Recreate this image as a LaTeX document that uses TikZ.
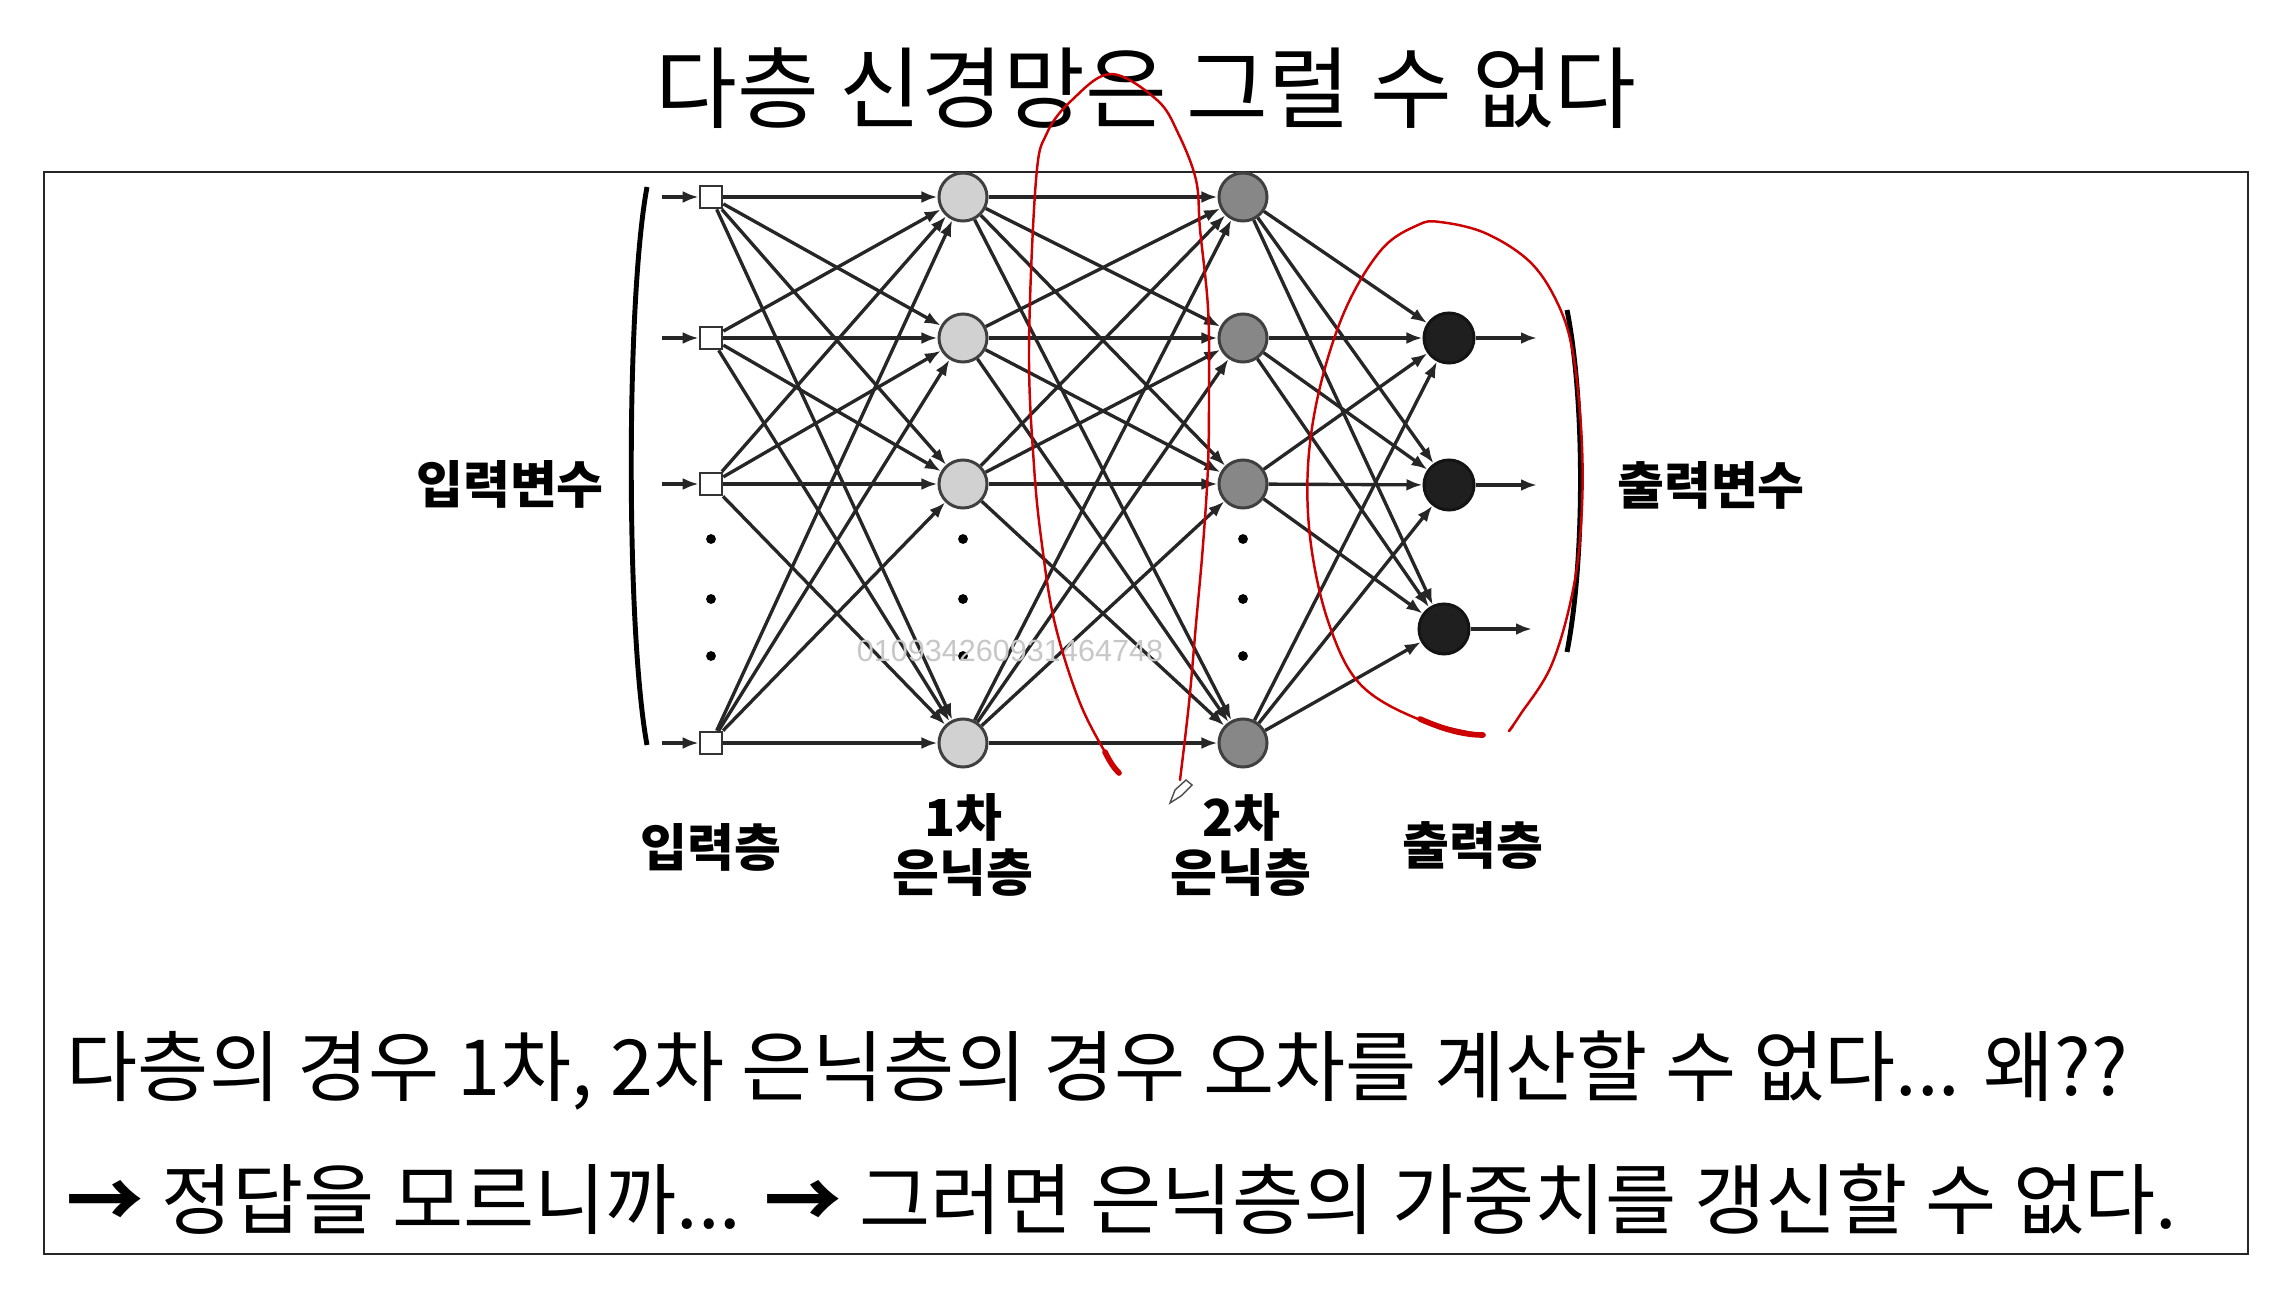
\documentclass[tikz,border=0pt]{standalone}
\usepackage{fontspec}
\usetikzlibrary{arrows.meta}
\newfontfamily\kr{Noto Sans CJK KR}
\newfontfamily\wm{Liberation Sans}

\tikzset{
	unit/.style={circle, draw=black!75, line width=0.85pt, minimum size=0.48cm, inner sep=0pt},
	hida/.style={unit, fill=black!18},
	hidb/.style={unit, fill=black!47},
	outn/.style={unit, fill=black!88, draw=black!92, minimum size=0.5cm},
	inn/.style={rectangle, draw=black!80, fill=white, line width=0.75pt, minimum size=0.22cm, inner sep=0pt},
	link/.style={-{Latex[length=0.16cm, width=0.12cm]}, line width=0.95pt, draw=black!85},
	lbl/.style={font=\kr\bfseries\fontsize{14.5}{15.5}\selectfont, align=center},
	redpen/.style={draw=red!80!black, line width=0.7pt, line cap=round, line join=round},
}

\begin{document}
\begin{tikzpicture}[x=0.01cm, y=-0.01cm]
	\useasboundingbox (0,0) rectangle (2287,1309);
	% title and frame
	\node (title) at (1146,88) {\kr\fontsize{25.3}{29}\selectfont 다층 신경망은 그럴 수 없다};
	\draw[black!85, line width=0.6pt] (44,172) rectangle (2248,1254);
	% layers
	\foreach \n/\y in {1/197, 2/338, 3/484, 4/743} {
		\coordinate (s\n) at (662,\y);
		\node[inn] (i\n) at (711,\y) {};
		\node[hida] (a\n) at (963,\y) {};
		\node[hidb] (b\n) at (1243,\y) {};
	}
	\node[outn] (o1) at (1449,338) {};
	\node[outn] (o2) at (1449,485) {};
	\node[outn] (o3) at (1444,629) {};
	\coordinate (e1) at (1537,338);
	\coordinate (e2) at (1537,485);
	\coordinate (e3) at (1532,629);
	% dots
	\foreach \x in {711, 963, 1243}
		\foreach \y in {539, 599, 656}
			\fill (\x,\y) circle (1.4pt);
	% links
	\foreach \s in {1,...,4} {
		\draw[link] (s\s) -- (i\s);
		\foreach \t in {1,...,4} {
			\draw[link] (i\s) -- (a\t);
			\draw[link] (a\s) -- (b\t);
		}
		\foreach \t in {1,2,3}
			\draw[link] (b\s) -- (o\t);
	}
	\foreach \t in {1,2,3}
		\draw[link] (o\t) -- (e\t);
	% brackets
	\draw[line width=1.4pt] (647,187) .. controls (626,300) and (626,630) .. (647,745);
	\draw[line width=1.4pt] (1567,310) .. controls (1585,400) and (1585,560) .. (1567,652);
	% labels
	\node[lbl] (inv) at (510,484) {입력변수};
	\node[lbl] (outv) at (1711,485) {출력변수};
	\node[lbl] (linp) at (711,847) {입력층};
	\node[lbl] (lh1) at (963,845) {1차\\은닉층};
	\node[lbl] (lh2) at (1241,845) {2차\\은닉층};
	\node[lbl] (lout) at (1473,845) {출력층};
	\node[text=black!22] (mark) at (1010,651) {\wm\fontsize{8.7}{10}\selectfont 010934260931464748};
	% red pen marks
	\draw[redpen] plot[smooth, tension=0.6] coordinates {(1119,773) (1109,759) (1080,703) (1055,624) (1042,545) (1034,466) (1029,348) (1036,180) (1047,133) (1072,100) (1111,74) (1157,100) (1178,133) (1196,180) (1200,229) (1208,308) (1209,387) (1208,466) (1203,545) (1196,624) (1189,703) (1180,780)};
	\draw[redpen, line width=1.6pt] (1105,752) .. controls (1110,762) and (1114,768) .. (1119,773);
	\draw[redpen] plot[smooth, tension=0.6] coordinates {(1483,735) (1418,719) (1360,684) (1329,624) (1311,545) (1308,466) (1320,387) (1346,308) (1382,249) (1418,225) (1440,222) (1485,233) (1529,261) (1556,300) (1572,348) (1581,427) (1582,506) (1574,585) (1552,664) (1520,715) (1509,731) (1513,726)};
	\draw[redpen, line width=1.6pt] (1420,719) .. controls (1445,730) and (1465,735) .. (1483,735);
	% pen cursor
	\draw[black!70, line width=0.4pt, fill=white] (1170,803) -- (1175,790) -- (1186,780) -- (1192,785) -- (1181,796) -- cycle;
	% bottom text
	\node[anchor=west, inner sep=0pt] (line1) at (66,1070) {\kr\fontsize{22}{26}\selectfont 다층의 경우 1차, 2차 은닉층의 경우 오차를 계산할 수 없다... 왜??};
	\node[anchor=west, inner sep=0pt] (line2) at (66,1199) {\kr\fontsize{22}{26}\selectfont {\bfseries →} 정답을 모르니까... {\bfseries →} 그러면 은닉층의 가중치를 갱신할 수 없다.};
\end{tikzpicture}
\end{document}
